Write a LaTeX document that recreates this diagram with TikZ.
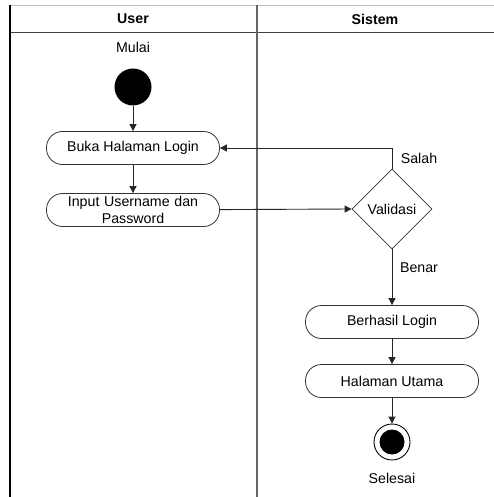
\documentclass[tikz,border=0pt]{standalone}
\usepackage{fontspec}
\setmainfont{Liberation Sans}
\usetikzlibrary{shapes.geometric,arrows.meta}
\begin{document}
\begin{tikzpicture}[x=1pt,y=-1pt,
  every node/.style={font=\fontsize{14.2}{16.5}\selectfont},
  act/.style={draw=black!80,line width=0.8pt,rounded corners=16pt,minimum width=173pt,minimum height=33pt,align=center,inner sep=1pt},
  dec/.style={draw=black!80,line width=0.8pt,diamond,minimum width=80pt,minimum height=80pt,inner sep=0pt},
  flow/.style={draw=black!85,line width=0.9pt,-{Triangle[length=7pt,width=7pt]}},
  lbl/.style={inner sep=0pt}]
\useasboundingbox (0,0) rectangle (494,497);
\fill[white] (0,0) rectangle (494,497);
% swimlane frame
\draw[black!25,line width=0.8pt] (10,5) -- (494,5);
\draw[black!75,line width=1pt] (10,33) -- (494,33);
\draw[black,line width=1.3pt] (10,5) -- (10,497);
\draw[black!60,line width=1.3pt] (257,5) -- (257,497);
\node[font=\fontsize{14.2}{16.5}\selectfont\bfseries] (hUser) at (133,19) {User};
\node[font=\fontsize{14.2}{16.5}\selectfont\bfseries] (hSistem) at (375,19) {Sistem};
% user lane
\node[lbl] (mulaiT) at (133,47) {Mulai};
\node[circle,fill=black,minimum size=37pt,inner sep=0pt] (start) at (133,87) {};
\node[act] (buka) at (133,148) {Buka Halaman Login};
\node[act,text width=165pt] (input) at (133,210) {Input Username dan\\Password};
% system lane
\node[dec] (valid) at (392,209) {Validasi};
\node[act] (berhasil) at (392,322) {Berhasil Login};
\node[act] (utama) at (392,381) {Halaman Utama};
\node[circle,draw=black,line width=0.9pt,minimum size=36pt,inner sep=0pt] (stop) at (392,442) {};
\node[circle,fill=black,minimum size=25pt,inner sep=0pt] (stopdot) at (stop) {};
\node[lbl] (selesaiT) at (392,478) {Selesai};
% flows
\draw[flow] (start) -- (buka);
\draw[flow] (buka) -- (input);
\draw[flow] (input) -- (valid.west);
\draw[flow] (valid.north) |- (buka.east);
\draw[flow] (valid.south) -- (berhasil);
\draw[flow] (berhasil) -- (utama);
\draw[flow] (utama) -- (stop);
\node[lbl] (salahT) at (419,158) {Salah};
\node[lbl] (benarT) at (419,268) {Benar};
\end{tikzpicture}
\end{document}
